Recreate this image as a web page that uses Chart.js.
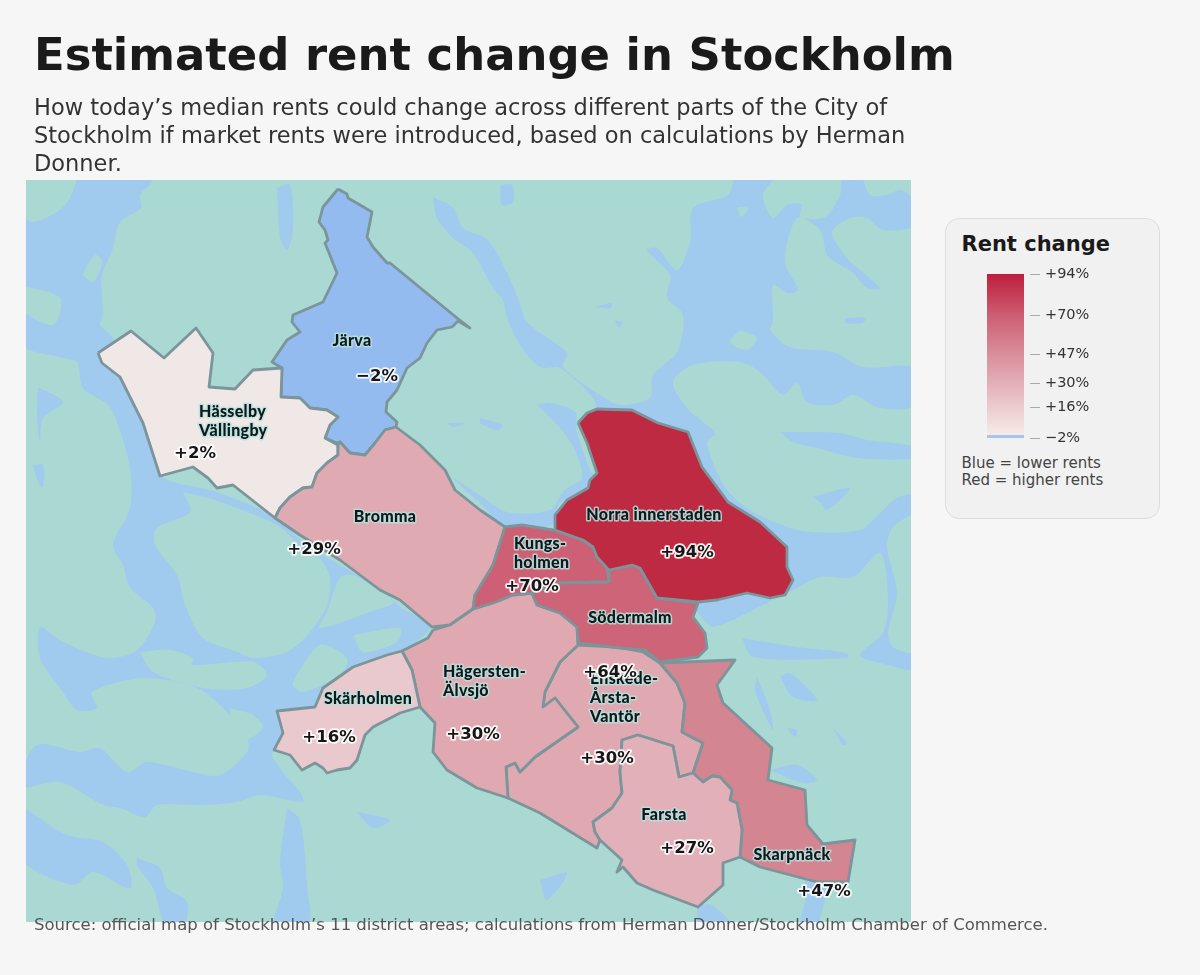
<!DOCTYPE html>
<html lang="en">
<head>
  <meta charset="UTF-8">
  <title>Estimated rent change in Stockholm</title>
  <script src="https://cdn.jsdelivr.net/npm/chart.js"></script>
  <style>
    html, body { margin: 0; padding: 0; background: #f6f6f6; }
    body { width: 1200px; height: 975px; position: relative; overflow: hidden; font-family: "DejaVu Sans", sans-serif; }
    #mapChart { position: absolute; left: 0; top: 0; }
    h1 { position: absolute; left: 34px; top: 28px; margin: 0; font-size: 44.9px; line-height: 54px; color: #1a1a1a; white-space: nowrap; }
    #subtitle { position: absolute; left: 34px; top: 93px; width: 900px; margin: 0; font-size: 22.5px; line-height: 28.2px; color: #333; }
    #source { position: absolute; left: 34px; top: 915px; margin: 0; font-size: 16.5px; line-height: 20px; color: #555; white-space: nowrap; }
    #legendBox { position: absolute; left: 945px; top: 218px; width: 213px; height: 299px; background: #f1f1f1; border: 1px solid #ddd; border-radius: 14px; }
    #legendTitle { position: absolute; left: 15.5px; top: 12px; font-size: 21px; line-height: 26px; font-weight: bold; color: #1a1a1a; white-space: nowrap; }
    #legendNote { position: absolute; left: 15.5px; top: 236px; font-size: 15px; line-height: 17px; color: #444; white-space: nowrap; }
    #scaleChart { position: absolute; left: 981px; top: 264px; }
  </style>
</head>
<body>
  <canvas id="mapChart" width="1200" height="975"></canvas>
  <h1>Estimated rent change in Stockholm</h1>
  <p id="subtitle">How today’s median rents could change across different parts of the City of Stockholm if market rents were introduced, based on calculations by Herman Donner.</p>
  <p id="source">Source: official map of Stockholm’s 11 district areas; calculations from Herman Donner/Stockholm Chamber of Commerce.</p>
  <div id="legendBox">
    <div id="legendTitle">Rent change</div>
    <div id="legendNote">Blue = lower rents<br>Red = higher rents</div>
  </div>
  <canvas id="scaleChart" width="119" height="184"></canvas>

  <script>
    // values
    const districtNames = [['Järva'], ['Hässelby', 'Vällingby'], ['Bromma'], ['Norra innerstaden'], ['Kungs-', 'holmen'], ['Södermalm'],
      ['Hägersten-', 'Älvsjö'], ['Skärholmen'], ['Enskede-', 'Årsta-', 'Vantör'], ['Farsta'], ['Skarpnäck']];
    const rentChange = [-2, 2, 29, 94, 70, 64, 30, 16, 30, 27, 47];
    const districtColors = ['#93bbf0', '#f0e8e6', '#e0aab3', '#bd2a42', '#cd6074', '#cd6477', '#e0a9b1', '#e9c9cd', '#e0a9b1', '#e2b0b8', '#d38591'];
    const scaleTicks = [94, 70, 47, 30, 16, -2];

    // map outlines, in map units
    const jarva = [[338,189],[347,194],[348,198],[372,212],[367,237],[373,247],[387,263],[390,263],[457,318],[470,328],[458,321],[452,327],[437,330],[427,343],[420,358],[407,368],[397,390],[387,402],[386,412],[397,422],[396,427],[385,430],[375,443],[365,455],[350,453],[340,442],[337,443],[325,438],[330,425],[338,417],[327,410],[310,408],[300,398],[281,397],[282,368],[272,362],[287,340],[300,332],[292,322],[293,315],[323,302],[337,273],[325,243],[328,240],[325,230],[319,222],[323,207],[338,189]];
    const hasselby = [[98,353],[131,331],[164,358],[196,328],[213,353],[209,387],[235,389],[253,370],[282,368],[281,397],[300,398],[310,408],[327,410],[338,417],[330,425],[325,438],[338,445],[338,455],[327,463],[317,473],[312,487],[303,488],[290,497],[280,508],[275,518],[233,485],[217,488],[208,478],[193,467],[160,476],[143,423],[120,377],[102,363],[98,353]];
    const bromma = [[338,445],[340,442],[350,453],[365,455],[375,443],[385,430],[396,427],[420,445],[445,470],[455,490],[480,510],[505,527],[500,543],[493,565],[475,595],[473,609],[450,625],[432,627],[400,600],[380,590],[340,560],[300,535],[275,518],[280,508],[290,497],[303,488],[312,487],[317,473],[327,463],[338,455],[338,445]];
    const norra = [[578,423],[587,413],[597,409],[632,410],[658,423],[688,432],[702,467],[728,502],[760,522],[787,547],[787,567],[793,580],[785,595],[770,598],[747,593],[717,600],[698,602],[657,598],[640,568],[632,565],[609,570],[607,568],[597,557],[593,547],[583,540],[555,530],[555,515],[567,500],[588,488],[590,480],[597,473],[587,443],[578,423]];
    const kungsholmen = [[505,527],[522,525],[553,530],[583,540],[593,547],[597,557],[607,568],[609,582],[560,583],[532,593],[513,595],[493,603],[473,609],[475,595],[493,565],[500,543],[505,527]];
    const sodermalm = [[609,570],[632,565],[640,568],[657,598],[698,603],[693,617],[705,633],[707,648],[698,657],[660,662],[645,650],[620,648],[578,643],[577,627],[560,613],[537,605],[532,593],[560,583],[609,582],[609,570]];
    const hagersten = [[433,630],[428,638],[402,651],[412,670],[420,707],[435,723],[433,752],[447,770],[477,788],[508,798],[506,767],[515,763],[520,772],[535,757],[578,727],[555,698],[543,707],[545,692],[560,662],[578,645],[577,627],[560,613],[537,605],[532,593],[513,595],[493,603],[473,609],[450,625],[433,630]];
    const skarholmen = [[402,651],[412,670],[420,707],[400,713],[373,727],[365,735],[357,760],[350,768],[337,770],[327,773],[323,768],[315,763],[302,770],[290,755],[274,750],[283,733],[277,711],[315,707],[323,688],[353,667],[387,655],[402,651]];
    const enskede = [[578,645],[560,662],[545,692],[543,707],[555,698],[578,727],[535,757],[520,772],[515,763],[506,767],[508,798],[540,813],[597,848],[600,840],[595,832],[593,822],[612,808],[622,793],[620,772],[622,740],[638,735],[673,746],[679,777],[693,773],[703,743],[682,732],[685,703],[677,683],[660,663],[643,652],[617,647],[578,645]];
    const farsta = [[622,740],[638,735],[673,746],[679,777],[693,773],[703,782],[712,776],[720,777],[732,790],[730,800],[737,803],[742,830],[740,857],[723,863],[723,885],[698,907],[653,890],[637,883],[623,867],[617,872],[622,860],[600,840],[595,832],[593,822],[612,808],[622,793],[620,772],[622,740]];
    const skarpnack = [[660,663],[735,660],[717,685],[723,703],[772,748],[768,780],[805,790],[807,825],[823,844],[855,840],[848,882],[817,882],[760,867],[740,857],[742,830],[737,803],[730,800],[732,790],[720,777],[712,776],[703,782],[693,773],[703,743],[682,732],[685,703],[677,683],[660,663]];
    const districtShapes = [jarva, hasselby, bromma, enskede, hagersten, skarholmen, kungsholmen, sodermalm, norra, skarpnack, farsta];
    const shapeOwner = [0, 1, 2, 8, 6, 7, 4, 5, 3, 10, 9];

    const mapBounds = [[26,180],[911,180],[911,922],[26,922]];
    const westWater = [[75,180],[152,180],[140,195],[141,208],[120,222],[113,248],[102,275],[102,298],[103,315],[100,325],[113,338],[120,375],[147,422],[160,475],[217,492],[277,518],[305,545],[340,565],[380,590],[405,610],[432,625],[402,652],[273,752],[283,772],[300,792],[303,802],[260,795],[237,802],[203,805],[157,805],[145,817],[120,808],[103,805],[60,782],[20,788],[20,777],[37,745],[80,752],[100,748],[127,772],[147,762],[193,772],[220,775],[247,752],[247,738],[223,708],[197,688],[143,678],[92,692],[97,708],[77,710],[63,692],[40,658],[40,627],[63,642],[107,658],[137,650],[155,622],[153,608],[130,587],[123,565],[113,545],[130,508],[130,468],[117,422],[108,405],[83,388],[77,362],[63,358],[20,342],[20,210],[33,222],[65,205]];
    const eastWater = [[433,197],[453,208],[463,228],[488,240],[508,275],[518,298],[527,322],[567,353],[563,367],[600,395],[620,405],[650,398],[653,375],[677,352],[683,315],[667,298],[670,275],[647,250],[657,248],[677,270],[690,242],[693,208],[728,195],[737,175],[775,175],[763,195],[773,218],[787,205],[802,205],[800,217],[825,217],[840,195],[843,175],[860,175],[870,195],[887,195],[900,190],[916,202],[916,225],[883,230],[867,218],[850,218],[832,232],[847,258],[880,288],[867,288],[852,272],[840,265],[827,255],[820,230],[797,218],[785,262],[798,290],[787,293],[773,285],[773,322],[770,330],[790,347],[833,352],[863,367],[916,368],[916,405],[880,408],[853,395],[833,405],[807,402],[797,383],[783,395],[760,372],[740,362],[693,365],[673,382],[687,408],[703,422],[715,433],[707,443],[725,487],[750,510],[790,528],[813,532],[860,530],[880,513],[897,498],[916,495],[916,510],[893,527],[887,547],[897,593],[888,633],[893,647],[916,657],[916,670],[880,663],[860,655],[883,633],[888,597],[880,553],[853,577],[820,577],[793,590],[763,605],[713,627],[700,615],[690,600],[640,430],[600,415],[593,398],[560,368],[540,367],[520,345],[507,318],[503,300],[493,288],[473,253],[453,238],[437,218]];
    const innerWater = [[537,405],[550,403],[575,412],[577,432],[590,470],[595,478],[586,490],[560,503],[552,525],[505,528],[482,505],[453,478],[480,495],[507,512],[550,510],[565,490],[582,478],[575,450],[560,428]];
    const lakes = [
      [[500,185],[512,185],[513,202],[502,205]],
      [[277,188],[290,185],[293,230],[287,250],[280,237]],
      [[595,307],[612,303],[610,308]],
      [[615,320],[623,323],[618,327]],
      [[845,318],[865,318],[863,323],[845,323]],
      [[447,423],[465,423],[453,427]],
      [[480,418],[503,425],[497,430],[480,423]],
      [[780,432],[840,433],[867,440],[915,447],[915,458],[857,458],[817,448],[793,442]],
      [[813,497],[850,488],[827,510],[820,502]],
      [[742,638],[797,647],[847,653],[847,658],[753,657]],
      [[780,677],[790,673],[817,700],[793,697]],
      [[757,677],[770,710],[773,730],[765,715],[755,690]],
      [[770,770],[797,765],[817,780],[803,783]],
      [[833,728],[847,743],[843,745]],
      [[787,728],[797,730],[795,737]],
      [[805,880],[830,885],[825,900],[815,930],[800,930],[805,900]],
      [[697,905],[712,905],[735,930],[700,930]],
      [[540,880],[567,873],[547,900]],
      [[287,808],[300,820],[307,885],[308,930],[273,930],[283,888],[280,862]],
      [[20,805],[67,835],[103,842],[127,865],[130,888],[93,872],[73,885],[20,858]],
      [[137,858],[160,868],[167,888],[187,902],[183,930],[167,930],[153,888],[137,865]],
      [[38,387],[63,402],[43,418],[40,442],[37,415]],
      [[33,465],[43,465],[43,487],[38,482]],
      [[357,812],[390,820],[373,828]]
    ];
    const islands = [
      [[20,175],[75,175],[65,205],[33,222],[20,212]],
      [[20,285],[60,298],[53,325],[20,308]],
      [[82,275],[95,255],[102,262],[93,282]],
      [[183,492],[215,500],[277,525],[300,545],[320,558],[330,578],[327,605],[310,632],[287,652],[253,658],[237,652],[203,638],[185,605],[177,575],[155,545],[157,528],[190,512]],
      [[327,612],[340,578],[353,575],[393,602],[370,612],[320,628]],
      [[353,635],[400,628],[397,642],[363,652]],
      [[298,672],[320,645],[347,658],[340,675],[303,692],[293,685]],
      [[230,708],[253,715],[263,728],[240,742],[233,728]],
      [[140,652],[170,650],[193,658],[192,665],[253,662],[267,675],[247,688],[203,688],[153,672]],
      [[737,207],[748,208],[741,217]],
      [[740,330],[757,338],[747,350],[730,342]]
    ];

    // label anchors, in map units, same order as districtNames
    const nameAnchors = [[352,341],[199,412],[385,517],[654,515],[514,544],[630,618],[443,672],[368,699],[590,679],[664,815],[792,855]];
    const nameAligns = ['center', 'left', 'center', 'center', 'left', 'center', 'left', 'center', 'left', 'center', 'center'];
    const valueAnchors = [[377,377],[195,454],[314,550],[687,553],[532,587],[610,673],[473,735],[329,738],[607,759],[687,849],[824,892]];

    const LAND = '#aad8d3';
    const WATER = '#a0cbee';
    const OUTLINE = '#7b959a';

    function shape(points, fill, stroke) {
      return {
        data: points.concat([points[0]]),
        showLine: true,
        fill: 'shape',
        backgroundColor: fill,
        borderColor: stroke || fill,
        borderWidth: stroke ? 2.8 : 0,
        borderJoinStyle: 'round',
        pointRadius: 0,
        tension: stroke ? 0 : 0.3,
        clip: false
      };
    }

    function pct(v) {
      return (v < 0 ? '\u2212' : '+') + Math.abs(v) + '%';
    }

    const layers = [shape(mapBounds, LAND), shape(westWater, WATER), shape(eastWater, WATER), shape(innerWater, WATER)]
      .concat(lakes.map(p => shape(p, WATER)))
      .concat(islands.map(p => shape(p, LAND)))
      .concat(districtShapes.map((p, i) => shape(p, districtColors[shapeOwner[i]], OUTLINE)));
    layers[0].tension = 0;
    // chart.js paints low order last, so bottom layers get the high numbers
    layers.forEach((d, i) => { d.order = layers.length - i; });

    const mapLabels = {
      id: 'mapLabels',
      beforeDatasetsDraw(chart) {
        // rounded water edges must not spill past the map rectangle
        const { ctx, scales: { x, y } } = chart;
        const left = x.getPixelForValue(mapBounds[0][0]);
        const top = y.getPixelForValue(mapBounds[0][1]);
        ctx.save();
        ctx.beginPath();
        ctx.rect(left, top, x.getPixelForValue(mapBounds[2][0]) - left, y.getPixelForValue(mapBounds[2][1]) - top);
        ctx.clip();
      },
      afterDatasetsDraw(chart) {
        const { ctx, scales: { x, y } } = chart;
        ctx.restore();
        ctx.save();
        ctx.lineJoin = 'round';
        ctx.textBaseline = 'middle';
        ctx.font = '900 16px Lato, sans-serif';
        ctx.letterSpacing = '0.3px';
        districtNames.forEach((lines, i) => {
          lines.forEach((line, k) => {
            const px = x.getPixelForValue(nameAnchors[i][0]);
            const py = y.getPixelForValue(nameAnchors[i][1] + k * 19);
            ctx.textAlign = nameAligns[i];
            ctx.lineWidth = 3;
            ctx.strokeStyle = 'rgba(185,225,220,0.85)';
            ctx.strokeText(line, px, py);
            ctx.fillStyle = '#0c1a1c';
            ctx.fillText(line, px, py);
          });
        });
        ctx.letterSpacing = '0px';
        ctx.font = 'bold 16.5px "DejaVu Sans", sans-serif';
        ctx.textAlign = 'center';
        rentChange.forEach((v, i) => {
          const px = x.getPixelForValue(valueAnchors[i][0]);
          const py = y.getPixelForValue(valueAnchors[i][1]);
          ctx.lineWidth = 3.5;
          ctx.strokeStyle = 'rgba(255,255,255,0.9)';
          ctx.strokeText(pct(v), px, py);
          ctx.fillStyle = '#161616';
          ctx.fillText(pct(v), px, py);
        });
        ctx.restore();
      }
    };

    new Chart(document.getElementById('mapChart'), {
      type: 'scatter',
      data: { datasets: layers },
      plugins: [mapLabels],
      options: {
        responsive: false,
        animation: false,
        layout: { padding: 0 },
        events: [],
        plugins: { legend: { display: false }, tooltip: { enabled: false } },
        scales: {
          x: { type: 'linear', display: false, min: 0, max: 1200 },
          y: { type: 'linear', display: false, min: 0, max: 975, reverse: true }
        }
      }
    });

    function scaleGradient(context) {
      const { ctx, chartArea } = context.chart;
      if (!chartArea) return '#cccccc';
      const g = ctx.createLinearGradient(0, chartArea.top, 0, chartArea.bottom);
      g.addColorStop(0, '#be1e3c');
      g.addColorStop(0.25, '#cd5d72');
      g.addColorStop(0.5, '#d9909c');
      g.addColorStop(0.67, '#e3b0b8');
      g.addColorStop(0.98, '#f6ebe8');
      g.addColorStop(0.98, '#a9c4ec');
      g.addColorStop(1, '#a9c4ec');
      return g;
    }

    new Chart(document.getElementById('scaleChart'), {
      type: 'bar',
      data: {
        labels: ['Rent change'],
        datasets: [{
          data: [[scaleTicks[scaleTicks.length - 1], scaleTicks[0]]],
          backgroundColor: scaleGradient,
          barPercentage: 1,
          categoryPercentage: 37 / 49
        }]
      },
      options: {
        responsive: false,
        animation: false,
        events: [],
        layout: { autoPadding: false, padding: { top: 10, bottom: 10, left: 0, right: 0 } },
        plugins: { legend: { display: false }, tooltip: { enabled: false } },
        scales: {
          x: { display: false },
          y: {
            position: 'right',
            min: scaleTicks[scaleTicks.length - 1],
            max: scaleTicks[0],
            afterBuildTicks: axis => { axis.ticks = scaleTicks.map(v => ({ value: v })); },
            afterFit: axis => { axis.width = 70; axis.paddingTop = 0; axis.paddingBottom = 0; },
            border: { display: false },
            grid: { drawOnChartArea: false, drawTicks: true, tickLength: 10, color: '#aaaaaa' },
            ticks: {
              padding: 5,
              autoSkip: false,
              color: '#333',
              font: { family: '"DejaVu Sans", sans-serif', size: 14.5 },
              callback: v => pct(v)
            }
          }
        }
      }
    });
  </script>
</body>
</html>
